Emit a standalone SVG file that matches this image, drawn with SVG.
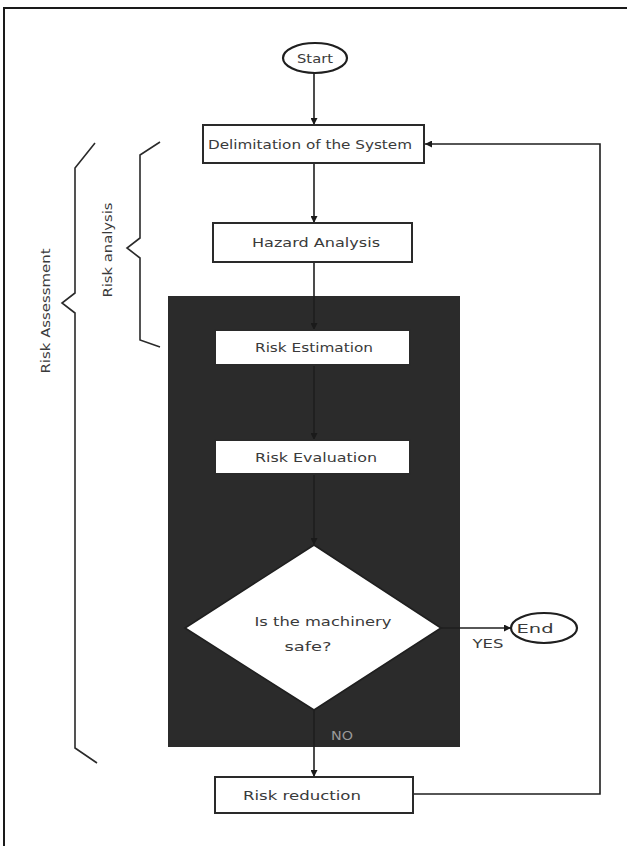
<svg xmlns="http://www.w3.org/2000/svg" width="627" height="846" viewBox="0 0 627 846">
  <defs>
    <marker id="arrow" viewBox="0 0 10 10" refX="10" refY="5" markerWidth="7" markerHeight="7" markerUnits="userSpaceOnUse" orient="auto">
      <path d="M0,0 L10,5 L0,10 Z" fill="#1a1a1a"/>
    </marker>
    <style>
      .box { fill: #ffffff; stroke: #2a2a2a; stroke-width: 2; }
      .lbl { font-family: "DejaVu Sans", "Liberation Sans", sans-serif; font-size: 13px; fill: #3a3a3a; text-anchor: middle; }
      .conn { fill: none; stroke: #1f1f1f; stroke-width: 1.6; }
      .brace { fill: none; stroke: #2a2a2a; stroke-width: 1.6; }
    </style>
  </defs>

  <rect width="627" height="846" fill="#ffffff"/>
  <!-- page frame (top and left edges) -->
  <path d="M4,846 L4,8 L627,8" fill="none" stroke="#1a1a1a" stroke-width="2"/>

  <!-- shaded evaluation area -->
  <rect id="evaluation-area" x="168" y="296" width="292" height="451" fill="#2b2b2b"/>

  <!-- braces -->
  <g id="risk-analysis">
    <path class="brace" d="M160,142 L140,155 L140,238 L127,248 L140,258 L140,340 L160,347"/>
    <text class="lbl" transform="translate(112,250) rotate(-90)" textLength="95" lengthAdjust="spacingAndGlyphs">Risk analysis</text>
  </g>
  <g id="risk-assessment">
    <path class="brace" d="M95,143 L75,168 L75,293 L62,303 L75,313 L75,748 L97,763"/>
    <text class="lbl" transform="translate(50,311) rotate(-90)" textLength="125" lengthAdjust="spacingAndGlyphs">Risk Assessment</text>
  </g>

  <!-- connectors -->
  <g id="connectors">
    <line class="conn" x1="314" y1="73" x2="314" y2="125" marker-end="url(#arrow)"/>
    <line class="conn" x1="314" y1="163" x2="314" y2="223" marker-end="url(#arrow)"/>
    <line class="conn" x1="314" y1="262" x2="314" y2="330" marker-end="url(#arrow)"/>
    <line class="conn" x1="314" y1="365" x2="314" y2="440" marker-end="url(#arrow)"/>
    <line class="conn" x1="314" y1="474" x2="314" y2="545" marker-end="url(#arrow)"/>
    <line class="conn" x1="314" y1="710" x2="314" y2="777" marker-end="url(#arrow)"/>
    <line class="conn" x1="441" y1="628" x2="511" y2="628" marker-end="url(#arrow)"/>
    <polyline class="conn" points="413,794 600,794 600,144 425,144" marker-end="url(#arrow)"/>
    <text class="lbl" x="488" y="648" textLength="31" lengthAdjust="spacingAndGlyphs">YES</text>
    <text class="lbl" x="342" y="740" fill="#9a9a9a" style="fill:#9a9a9a" textLength="22" lengthAdjust="spacingAndGlyphs">NO</text>
  </g>

  <!-- nodes -->
  <g id="start">
    <ellipse cx="315" cy="58" rx="32" ry="15" fill="#ffffff" stroke="#1f1f1f" stroke-width="2.2"/>
    <text class="lbl" x="315" y="63" textLength="36" lengthAdjust="spacingAndGlyphs">Start</text>
  </g>
  <g id="delimitation">
    <rect class="box" x="203" y="125" width="221" height="38"/>
    <text class="lbl" x="310" y="149" textLength="204" lengthAdjust="spacingAndGlyphs">Delimitation of the System</text>
  </g>
  <g id="hazard-analysis">
    <rect class="box" x="213" y="223" width="199" height="39"/>
    <text class="lbl" x="316" y="247" textLength="128" lengthAdjust="spacingAndGlyphs">Hazard Analysis</text>
  </g>
  <g id="risk-estimation">
    <rect class="box" x="215" y="330" width="195" height="35"/>
    <text class="lbl" x="314" y="352" textLength="118" lengthAdjust="spacingAndGlyphs">Risk Estimation</text>
  </g>
  <g id="risk-evaluation">
    <rect class="box" x="215" y="440" width="195" height="34"/>
    <text class="lbl" x="316" y="462" textLength="122" lengthAdjust="spacingAndGlyphs">Risk Evaluation</text>
  </g>
  <g id="decision">
    <polygon points="314,545 441,628 314,710 185,628" fill="#ffffff" stroke="#1f1f1f" stroke-width="1.6"/>
    <text class="lbl" x="323" y="626" textLength="137" lengthAdjust="spacingAndGlyphs">Is the machinery</text>
    <text class="lbl" x="308" y="651" textLength="47" lengthAdjust="spacingAndGlyphs">safe?</text>
  </g>
  <g id="end">
    <ellipse cx="544" cy="628" rx="33" ry="15" fill="#ffffff" stroke="#1f1f1f" stroke-width="2.2"/>
    <text class="lbl" x="535" y="633" textLength="37" lengthAdjust="spacingAndGlyphs">End</text>
  </g>
  <g id="risk-reduction">
    <rect class="box" x="215" y="777" width="198" height="36"/>
    <text class="lbl" x="302" y="800" textLength="118" lengthAdjust="spacingAndGlyphs">Risk reduction</text>
  </g>
</svg>
